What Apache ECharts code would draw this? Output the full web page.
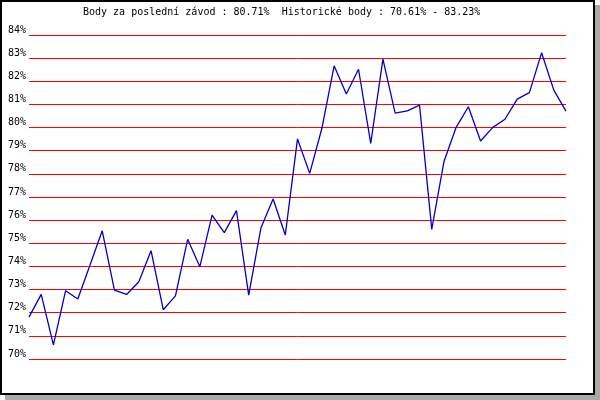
<!DOCTYPE html>
<html>
<head>
<meta charset="utf-8">
<script src="https://cdn.jsdelivr.net/npm/echarts@6/dist/echarts.min.js"></script>
<style>
html,body{margin:0;padding:0;background:#fff;}
#c{width:600px;height:400px;}
</style>
</head>
<body>
<div id="c"></div>
<script>
var titleText = 'Body za poslední závod : 80.71%  Historické body : 70.61% - 83.23%';
var races = [];
for (var k = 1; k <= 45; k++) races.push(String(k));
var points = [
  71.81, 72.79, 70.61, 72.95, 72.59, 74.06, 75.54, 72.98, 72.79, 73.34,
  74.68, 72.13, 72.73, 75.17, 73.99, 76.22, 75.46, 76.41, 72.76, 75.66,
  76.91, 75.36, 79.51, 78.02, 79.97, 82.67, 81.45, 82.52, 79.32, 82.96,
  80.62, 80.72, 80.97, 75.60, 78.53, 80.01, 80.90, 79.42, 80.01, 80.36,
  81.23, 81.51, 83.23, 81.62, 80.71
];
var yMin = 70, yMax = 84, yStep = 1;

var chart = echarts.init(document.getElementById('c'), null, {renderer: 'canvas'});
chart.setOption({
  animation: false,
  backgroundColor: '#ffffff',
  graphic: [
    {type: 'rect', z: -10, silent: true, shape: {x: 5, y: 5, width: 595, height: 395}, style: {fill: '#a9a9a9'}},
    {type: 'rect', z: -9, silent: true, shape: {x: 1, y: 1, width: 593, height: 393}, style: {fill: '#ffffff', stroke: '#000000', lineWidth: 2}}
  ],
  title: {
    text: titleText,
    left: 83,
    top: 7,
    padding: 0,
    textStyle: {fontFamily: 'DejaVu Sans Mono', fontSize: 10, fontWeight: 'normal', color: '#000000'}
  },
  grid: {left: 29, right: 34, top: 35, bottom: 41, containLabel: false},
  xAxis: {
    type: 'category',
    data: races,
    boundaryGap: false,
    axisLine: {show: false},
    axisTick: {show: false},
    axisLabel: {show: false},
    splitLine: {show: false}
  },
  yAxis: {
    type: 'value',
    min: yMin,
    max: yMax,
    interval: yStep,
    axisLine: {show: false},
    axisTick: {show: false},
    axisLabel: {
      formatter: '{value}%',
      fontFamily: 'DejaVu Sans Mono',
      fontSize: 10,
      color: '#000000',
      margin: 3,
      verticalAlign: 'bottom'
    },
    splitLine: {show: true, lineStyle: {color: '#ff0000', width: 1, type: 'solid'}}
  },
  series: [{
    type: 'line',
    data: points,
    symbol: 'none',
    smooth: false,
    lineStyle: {color: '#0000cc', width: 1.3},
    z: 5
  }]
});
</script>
</body>
</html>
